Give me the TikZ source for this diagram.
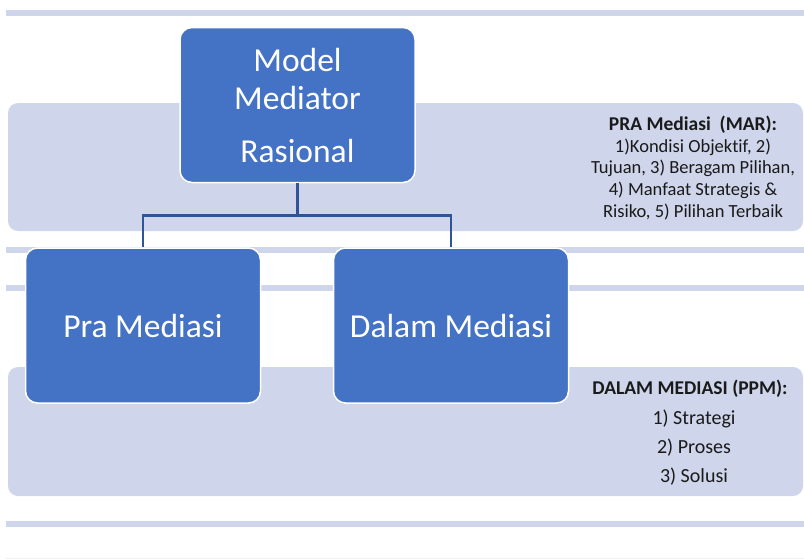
\documentclass[tikz,border=0pt]{standalone}
\usepackage{fontspec}
\setmainfont{Carlito}[Ligatures=NoCommon]
\usetikzlibrary{positioning}

\definecolor{boxblue}{HTML}{4472C4}
\definecolor{linkblue}{HTML}{2F5597}
\definecolor{bandgray}{HTML}{CFD5EA}
\definecolor{textdark}{HTML}{1A1A1A}

\tikzset{
  mbox/.style={draw=white, line width=1.5pt, fill=boxblue, rounded corners=12pt,
    minimum width=235pt, minimum height=155pt, text=white, align=center,
    font=\fontsize{33.5}{38}\selectfont, inner sep=0pt},
  band/.style={fill=bandgray, rounded corners=10pt},
  strip/.style={fill=bandgray},
  link/.style={draw=linkblue, line width=2.5pt},
  note/.style={text=textdark, align=center, inner sep=0pt}
}

\begin{document}
\begin{tikzpicture}[x=1pt,y=-1pt]
  \useasboundingbox (0,0) rectangle (804,560);

  % Background strips and bands
  \fill[strip] (6,10) rectangle (804,16);
  \fill[strip] (6,247) rectangle (804,253);
  \fill[strip] (6,285) rectangle (804,291);
  \fill[strip] (6,521) rectangle (804,527);
  \draw[black!6, line width=1pt] (6,558) -- (804,558);
  \fill[band] (8,103) rectangle (803,231);
  \fill[band] (8,367) rectangle (803,496);

  % Boxes
  \node[mbox] (model) at (297.5,105) {Model\\Mediator\\[15pt]Rasional};
  \node[mbox] (pra) at (143,325.5) {Pra Mediasi};
  \node[mbox] (dalam) at (451,325.5) {Dalam Mediasi};

  % Connectors
  \coordinate (fork) at ([yshift=-32pt]model.south);
  \draw[link] (model.south) -- (fork) -| (pra.north);
  \draw[link] (fork) -| (dalam.north);

  % Notes
  \node[note, font=\fontsize{18.5}{21.7}\selectfont] (mar) at (693,168)
    {{\fontsize{19.5}{21.7}\selectfont\bfseries PRA Mediasi~~(MAR):}\\1)Kondisi Objektif, 2)\\
     Tujuan, 3) Beragam Pilihan,\\4) Manfaat Strategis \&\\Risiko, 5) Pilihan Terbaik};
  \node[note, font=\fontsize{19.5}{22}\selectfont\bfseries] (ppm) at (690,389)
    {DALAM MEDIASI (PPM):};
  \node[note, font=\fontsize{20}{22}\selectfont] (ppmone) at (694,419) {1) Strategi};
  \node[note, font=\fontsize{20}{22}\selectfont] (ppmtwo) at (694,448) {2) Proses};
  \node[note, font=\fontsize{20}{22}\selectfont] (ppmthree) at (694,477) {3) Solusi};
\end{tikzpicture}
\end{document}
